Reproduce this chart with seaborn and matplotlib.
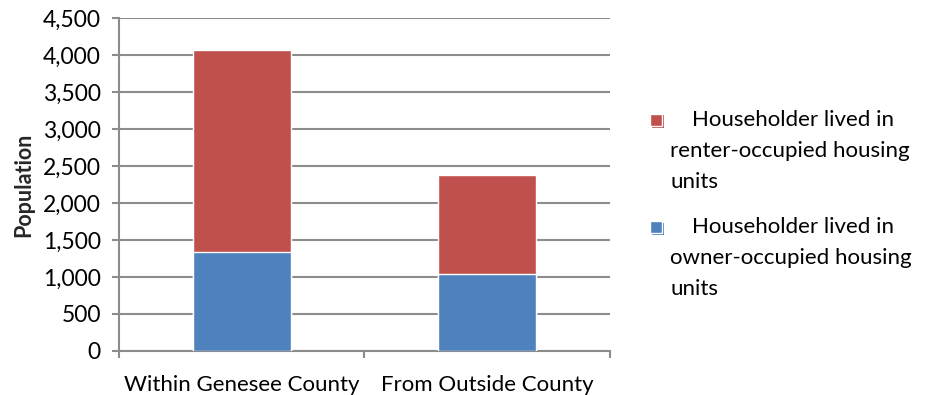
import matplotlib
matplotlib.use("Agg")
import matplotlib.pyplot as plt
import seaborn as sns
import pandas as pd
from matplotlib.patches import Rectangle
from matplotlib.ticker import FuncFormatter, FixedLocator

categories = ["Within Genesee County", "From Outside County"]
owner_occupied = [1335, 1045]
renter_occupied = [2730, 1340]
series_labels = [
    "Householder lived in\nrenter-occupied housing\nunits",
    "Householder lived in\nowner-occupied housing\nunits",
]

RED = "#C0504D"
BLUE = "#4F81BD"
GRID = "#8C8C8C"

sns.set_theme(style="white")
plt.rcParams["font.family"] = ["Lato", "DejaVu Sans"]

df = pd.DataFrame({
    "category": categories,
    "owner": owner_occupied,
    "total": [o + r for o, r in zip(owner_occupied, renter_occupied)],
})

fig = plt.figure(figsize=(9.25, 3.95), dpi=100)
ax = fig.add_axes([0.1286, 0.1114, 0.5309, 0.843])

sns.barplot(data=df, x="category", y="total", color=RED, width=0.4,
            saturation=1, edgecolor="white", linewidth=1, ax=ax, zorder=3)
sns.barplot(data=df, x="category", y="owner", color=BLUE, width=0.4,
            saturation=1, edgecolor="white", linewidth=1, ax=ax, zorder=4)

ax.set_ylim(0, 4500)
ax.set_xlim(-0.5, 1.5)
ax.set_yticks(range(0, 4501, 500))
ax.yaxis.set_major_formatter(FuncFormatter(lambda v, p: f"{int(v):,}"))
ax.yaxis.grid(True, color=GRID, linewidth=1.5, zorder=0)
ax.set_axisbelow(True)

for side in ("top", "right"):
    ax.spines[side].set_visible(False)
for side in ("left", "bottom"):
    ax.spines[side].set_color(GRID)
    ax.spines[side].set_linewidth(1.5)

ax.tick_params(axis="y", which="major", left=True, length=5, width=1.5,
               color=GRID, pad=8, labelsize=16.5, labelcolor="black")
ax.tick_params(axis="x", which="major", bottom=False, pad=11,
               labelsize=16, labelcolor="black")
ax.xaxis.set_minor_locator(FixedLocator([-0.5, 0.5, 1.5]))
ax.tick_params(axis="x", which="minor", bottom=True, length=5, width=1.5,
               color=GRID)

ax.set_xlabel("")
ax.set_ylabel("Population", fontsize=15.5, fontweight="bold", labelpad=6)

# Legend drawn as marker squares with wrapped text lines
W, H = 925, 395
entries = [(RED, series_labels[0], 120), (BLUE, series_labels[1], 227)]
for color, label, ytop in entries:
    sq = 12
    fig.add_artist(Rectangle(((650 + 1.5) / W, 1 - (ytop + sq / 2 + 1.5) / H),
                             sq / W, sq / H, transform=fig.transFigure,
                             facecolor=color, edgecolor="none"))
    fig.add_artist(Rectangle((650 / W, 1 - (ytop + sq / 2) / H),
                             sq / W, sq / H, transform=fig.transFigure,
                             facecolor=color, edgecolor="white", linewidth=1))
    lines = label.split("\n")
    for i, line in enumerate(lines):
        x = 692 if i == 0 else 670
        fig.text(x / W, 1 - (ytop + i * 31) / H, line, fontsize=16,
                 ha="left", va="center", color="black")

fig.savefig("out.png", dpi=100)
